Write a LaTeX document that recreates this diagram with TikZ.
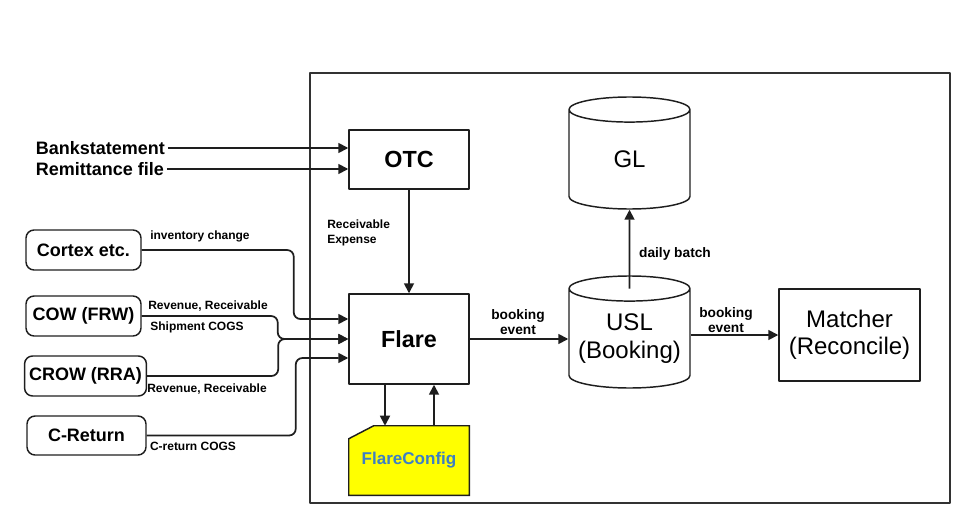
\documentclass[tikz,border=0pt]{standalone}
\usepackage{fontspec}
\setmainfont{Liberation Sans}
\usetikzlibrary{arrows.meta,shapes.geometric,backgrounds}
\definecolor{lncol}{RGB}{30,30,30}
\definecolor{framecol}{RGB}{50,50,50}
\definecolor{cfgblue}{RGB}{61,127,196}
\definecolor{cfgyellow}{RGB}{255,255,0}
\begin{document}
\begin{tikzpicture}[x=0.75pt, y=-0.75pt, line join=round, >={Triangle[length=7.5pt,width=7.5pt]},
	box/.style={draw=lncol, line width=1.1pt, minimum width=90pt, font=\fontsize{17.5}{20}\selectfont\bfseries},
	src/.style={draw=lncol, line width=1.1pt, rounded corners=6pt, minimum height=30pt, font=\fontsize{13.5}{16}\selectfont\bfseries},
	db/.style={cylinder, shape border rotate=90, aspect=0.235, draw=lncol, line width=1.1pt, inner sep=0pt,
		text width=80pt, text height=20pt, text depth=0pt, minimum width=90.75pt, minimum height=84pt, anchor=shape center},
	dbtext/.style={align=center, font=\fontsize{18}{20.5}\selectfont},
	lbl/.style={inner sep=0pt, align=left, font=\fontsize{9}{11.25}\selectfont\bfseries},
	evt/.style={inner sep=0pt, align=center, font=\fontsize{10.3}{11.25}\selectfont\bfseries},
	conn/.style={->, draw=lncol, line width=1.3pt, rounded corners=5pt}]
	\useasboundingbox (0,0) rectangle (970,524);
	% rahmen
	\draw[framecol, line width=1.5pt] (310,73) rectangle (950,503);
	% eingaben
	\node[anchor=west, inner sep=2pt, font=\fontsize{13.5}{16}\selectfont\bfseries] (bank) at (33,148) {Bankstatement};
	\node[anchor=west, inner sep=2pt, font=\fontsize{13.5}{16}\selectfont\bfseries] (rem) at (33,169) {Remittance file};
	\node[src, minimum width=86.25pt] (cortex) at (83.5,250) {Cortex etc.};
	\node[src, minimum width=86.25pt] (cow) at (83.5,316) {COW (FRW)};
	\node[src, minimum width=90.75pt] (crow) at (85.5,376) {CROW (RRA)};
	\node[src, minimum width=89.25pt, minimum height=29.25pt] (cret) at (86.5,435.5) {C-Return};
	% kern
	\node[box, minimum height=44.25pt] (otc) at (409,159.5) {OTC};
	\node[box, minimum height=67.5pt] (flare) at (409,339) {Flare};
	\node[minimum width=90pt, minimum height=51.75pt, text=cfgblue, font=\fontsize{12.8}{15}\selectfont\bfseries] (cfg) at (409,460.5) {FlareConfig};
	\begin{scope}[on background layer]
		\draw[lncol, line width=1.1pt, fill=cfgyellow] (cfg.south west) -- ([yshift=-9.75pt]cfg.north west)
			-- ([xshift=18.75pt]cfg.north west) -- (cfg.north east) -- (cfg.south east) -- cycle;
	\end{scope}
	\node[db] (gl) at (629.5,153) {};
	\node[db] (usl) at (629.5,332) {};
	\node[dbtext] (gltxt) at ([yshift=-4.5pt]gl.shape center) {GL};
	\node[dbtext] (usltxt) at ([yshift=-5pt]usl.shape center) {USL\\(Booking)};
	\node[draw=lncol, line width=1.1pt, minimum width=105.75pt, minimum height=69pt, align=center,
		font=\fontsize{18}{20.5}\selectfont] (matcher) at (849.5,335) {Matcher\\(Reconcile)};
	% pfeile
	\draw[conn] (bank.east) -- (bank.east -| otc.west);
	\draw[conn] (rem.east) -- (rem.east -| otc.west);
	\draw[conn] (otc) -- (flare);
	\draw[conn] (cortex.east) -- ++(152,0) |- ([yshift=15pt]flare.west);
	\draw[conn] (cow.east) -- ++(136,0) |- (flare.west);
	\draw[conn] (crow.east) -- ++(131,0) |- (flare.west);
	\draw[conn] (cret.east) -- ++(149,0) |- ([yshift=-14.25pt]flare.west);
	\draw[conn] ([xshift=-18pt]flare.south) -- ([xshift=-18pt]flare.south |- cfg.north);
	\draw[conn] ([xshift=18.75pt]flare.south |- cfg.north) -- ([xshift=18.75pt]flare.south);
	\draw[conn] (flare.east) -- (flare.east -| usl.west);
	\draw[conn] ([yshift=-10pt]usl.north) -- (gl.south);
	\draw[conn] (usl.east |- matcher.west) -- (matcher.west);
	% beschriftungen
	\node[lbl] (linv) at (200,236) {inventory change};
	\node[lbl] (lrev1) at (208,306) {Revenue, Receivable};
	\node[lbl] (lship) at (197,327) {Shipment COGS};
	\node[lbl] (lrev2) at (207,389) {Revenue, Receivable};
	\node[lbl] (lcret) at (193,446) {C-return COGS};
	\node[lbl, anchor=west] (lrecv) at (327,232.5) {Receivable\\Expense};
	\node[evt] (lbk1) at (518,322) {booking\\event};
	\node[evt] (lbk2) at (726,320) {booking\\event};
	\node[evt] (ldaily) at (675,254) {daily batch};
\end{tikzpicture}
\end{document}
